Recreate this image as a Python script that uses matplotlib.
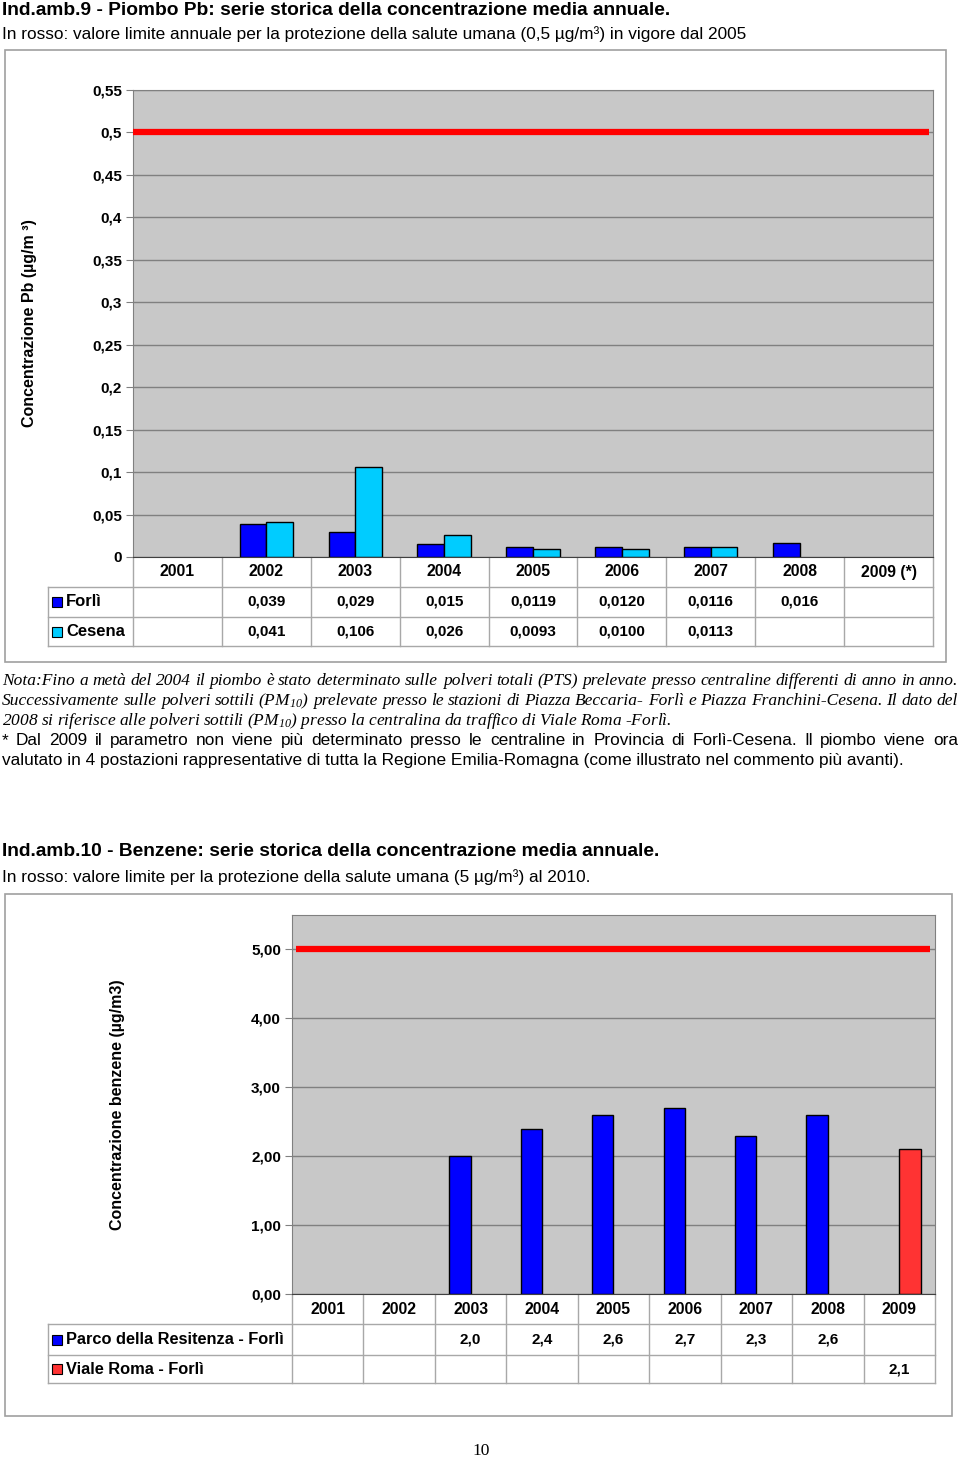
import numpy as np
import matplotlib
matplotlib.use("Agg")
import matplotlib.pyplot as plt
from matplotlib.patches import Rectangle

# --- Ind.amb.9: piombo (ug/m3) ---
anni_pb = ["2001", "2002", "2003", "2004", "2005", "2006", "2007", "2008", "2009 (*)"]
forli_pb = [np.nan, 0.039, 0.029, 0.015, 0.0119, 0.0120, 0.0116, 0.016, np.nan]
cesena_pb = [np.nan, 0.041, 0.106, 0.026, 0.0093, 0.0100, 0.0113, np.nan, np.nan]
forli_pb_txt = ["", "0,039", "0,029", "0,015", "0,0119", "0,0120", "0,0116", "0,016", ""]
cesena_pb_txt = ["", "0,041", "0,106", "0,026", "0,0093", "0,0100", "0,0113", "", ""]
pb_ticks = [0, 0.05, 0.1, 0.15, 0.2, 0.25, 0.3, 0.35, 0.4, 0.45, 0.5, 0.55]
pb_tick_lbl = ["0", "0,05", "0,1", "0,15", "0,2", "0,25", "0,3", "0,35", "0,4", "0,45", "0,5", "0,55"]
pb_limite = 0.5

# --- Ind.amb.10: benzene (ug/m3) ---
anni_bz = ["2001", "2002", "2003", "2004", "2005", "2006", "2007", "2008", "2009"]
parco_bz = [np.nan, np.nan, 2.0, 2.4, 2.6, 2.7, 2.3, 2.6, np.nan]
viale_bz = [np.nan, np.nan, np.nan, np.nan, np.nan, np.nan, np.nan, np.nan, 2.1]
bz_ticks = [0, 1, 2, 3, 4, 5]
bz_tick_lbl = ["0,00", "1,00", "2,00", "3,00", "4,00", "5,00"]
bz_limite = 5.0

plt.rcParams["font.family"] = ["Liberation Sans", "DejaVu Sans"]
plt.rcParams["mathtext.fontset"] = "custom"
plt.rcParams["mathtext.rm"] = "Liberation Serif:italic"
plt.rcParams["mathtext.it"] = "Liberation Serif:italic"

W, H = 960, 1460
fig = plt.figure(figsize=(W / 100, H / 100), dpi=100)
renderer = fig.canvas.get_renderer()
GRAY = "#808080"
TGRAY = "#a8a8a8"


def fy(y):
    return 1 - y / H


def box(x0, y0, x1, y1):
    return [x0 / W, 1 - y1 / H, (x1 - x0) / W, (y1 - y0) / H]


def frame(x0, y0, x1, y1):
    fig.add_artist(Rectangle((x0 / W, fy(y1)), (x1 - x0) / W, (y1 - y0) / H,
                             transform=fig.transFigure, fill=False,
                             edgecolor="#a0a0a0", lw=1.2))


def riga(y, testo, giust=False, x0=2, x1=958, **kw):
    # riga di testo (y = centro riga in px), giustificata se richiesto
    yb = fy(y + 0.36 * kw.get("fontsize", 12) * 100 / 72)
    if not giust:
        fig.text(x0 / W, yb, testo, va="baseline", **kw)
        return
    parole = testo.split(" ")
    arts = [fig.text(0, yb, p, va="baseline", **kw) for p in parole]
    larg = [a.get_window_extent(renderer).width for a in arts]
    gap = (x1 - x0 - sum(larg)) / (len(parole) - 1)
    x = x0
    for a, l in zip(arts, larg):
        a.set_x(x / W)
        x += l + gap


def chart(px, anni, serie, colori, nomi, testi, ticks, tick_lbl, ymax, limite,
          lim_x, tab_left, righe, ylabel, ylab_x, lab_size):
    x0, y0, x1, y1 = px
    ax = fig.add_axes(box(x0, y0, x1, y1))
    n = len(anni)
    cat = np.arange(n) + 0.5
    w = 0.3
    for k, (vals, col) in enumerate(zip(serie, colori)):
        vals = np.array(vals, dtype=float)
        ok = ~np.isnan(vals)
        start = cat[ok] - w if k == 0 else cat[ok]
        ax.bar(start, vals[ok], width=w, align="edge", color=col,
               edgecolor="black", linewidth=1, zorder=2)
    ax.axhline(limite, xmin=lim_x[0], xmax=lim_x[1], color="#ff0000", lw=4.5,
               solid_capstyle="butt", zorder=3)
    ax.set_xlim(0, n)
    ax.set_ylim(0, ymax)
    ax.set_facecolor("#c8c8c8")
    ax.set_yticks(ticks)
    ax.set_yticklabels(tick_lbl, fontweight="bold", fontsize=11)
    ax.set_xticks([])
    ax.yaxis.grid(True, color=GRAY, lw=1)
    ax.set_axisbelow(True)
    ax.tick_params(axis="y", length=5, color=GRAY, pad=3)
    for s in ax.spines.values():
        s.set_color(GRAY)
    ax.spines["bottom"].set_color("#404040")

    # tabella dati sotto il grafico
    hpx = y1 - y0
    tr = ax.get_xaxis_transform()
    def ya(yp):
        return (y1 - yp) / hpx
    colpx = (x1 - x0) / n
    xl = (tab_left - x0) / colpx
    r0, r1, r2 = righe
    for yp in (r0, r1, r2):
        ax.plot([xl, n], [ya(yp)] * 2, color=TGRAY, lw=1, transform=tr, clip_on=False)
    ax.plot([xl, xl], [ya(r0), ya(r2)], color=TGRAY, lw=1, transform=tr, clip_on=False)
    for i in range(n + 1):
        ax.plot([i, i], [0, ya(r2)], color=TGRAY, lw=1, transform=tr, clip_on=False)
    for i, a in enumerate(anni):
        ax.text(cat[i], ya((y1 + r0) / 2), a, ha="center", va="center",
                fontweight="bold", fontsize=11.3, transform=tr)
    for k, (nome, col, txt) in enumerate(zip(nomi, colori, testi)):
        yc = ya((r0 + r1) / 2) if k == 0 else ya((r1 + r2) / 2)
        ax.plot([xl + 9 / colpx], [yc], marker="s", ms=7,
                mfc=col, mec="black", mew=0.8, transform=tr, clip_on=False)
        ax.text(xl + 18 / colpx, yc, nome, ha="left", va="center",
                fontweight="bold", fontsize=lab_size, transform=tr)
        for i, t in enumerate(txt):
            ax.text(cat[i], yc, t, ha="center", va="center", fontweight="bold",
                    fontsize=11, transform=tr)
    fig.text(ylab_x / W, fy((y0 + y1) / 2), ylabel, rotation=90, ha="center",
             va="center", fontweight="bold", fontsize=11.5)
    return ax


# --- testi pagina ---
riga(8, "Ind.amb.9 - Piombo Pb: serie storica della concentrazione media annuale.",
     fontsize=13.8, fontweight="bold")
riga(33, "In rosso: valore limite annuale per la protezione della salute umana (0,5 µg/m³) in vigore dal 2005",
     fontsize=12.4)

frame(5, 50, 946, 662)
chart((133, 90, 933, 557), anni_pb, [forli_pb, cesena_pb], ["#0000ff", "#00ccff"],
      ["Forlì", "Cesena"], [forli_pb_txt, cesena_pb_txt], pb_ticks, pb_tick_lbl,
      0.55, pb_limite, (0.0, 0.995), 48, (587, 617, 646),
      "Concentrazione Pb (µg/m ³)", 30, 12)

serif = dict(family="Liberation Serif", style="italic", fontsize=12.5)
riga(679, "Nota:Fino a metà del 2004 il piombo è stato determinato sulle polveri totali (PTS) prelevate presso centraline differenti di anno in anno.",
     giust=True, **serif)
riga(699, "Successivamente sulle polveri sottili (PM$_{10}$) prelevate presso le stazioni di Piazza Beccaria- Forlì e Piazza Franchini-Cesena. Il dato del",
     giust=True, **serif)
riga(719, "2008 si riferisce alle polveri sottili (PM$_{10}$) presso la centralina da traffico di Viale Roma -Forlì.", **serif)
riga(739, "* Dal 2009 il parametro non viene più determinato presso le centraline in Provincia di Forlì-Cesena. Il piombo viene ora",
     giust=True, fontsize=12.4)
riga(759, "valutato in 4 postazioni rappresentative di tutta la Regione Emilia-Romagna (come illustrato nel commento più avanti).",
     fontsize=12.4)

riga(849, "Ind.amb.10 - Benzene: serie storica della concentrazione media annuale.",
     fontsize=13.8, fontweight="bold")
riga(876, "In rosso: valore limite per la protezione della salute umana (5 µg/m³) al 2010.",
     fontsize=12.4)

frame(5, 894, 952, 1416)
chart((292, 915, 935, 1294), anni_bz, [parco_bz, viale_bz], ["#0000ff", "#ff3333"],
      ["Parco della Resitenza - Forlì", "Viale Roma - Forlì"], [
          [("" if np.isnan(v) else f"{v:.1f}".replace(".", ",")) for v in parco_bz],
          [("" if np.isnan(v) else f"{v:.1f}".replace(".", ",")) for v in viale_bz]],
      bz_ticks, bz_tick_lbl, 5.5, bz_limite, (0.006, 0.992), 48, (1324, 1355, 1383),
      "Concentrazione benzene (µg/m3)", 118, 11.8)

fig.text(481 / W, fy(1451), "10", family="Liberation Serif", fontsize=12.5,
         ha="center", va="center")

fig.savefig("out.png", dpi=100)
